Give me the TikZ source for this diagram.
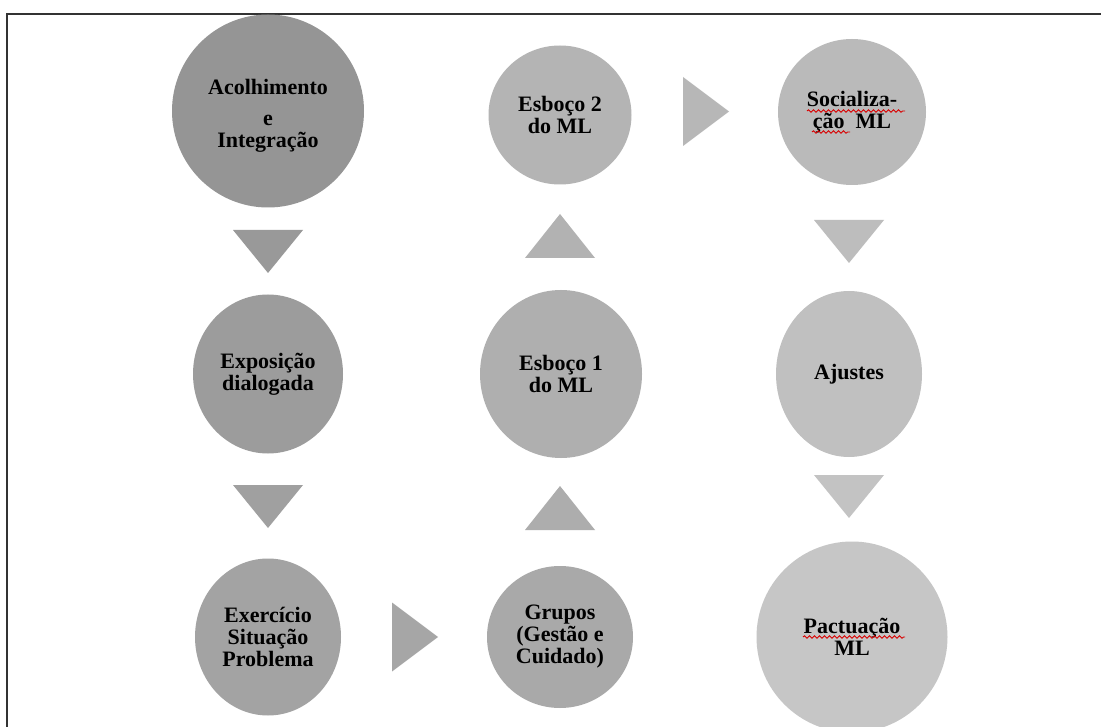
\documentclass[tikz,border=0pt]{standalone}
\usepackage{fontspec}
\setmainfont{Liberation Serif}
\usetikzlibrary{shapes.geometric,decorations.pathmorphing,calc}

\definecolor{cA}{HTML}{959595}
\definecolor{cB}{HTML}{9C9C9C}
\definecolor{cC}{HTML}{A3A3A3}
\definecolor{cD}{HTML}{A9A9A9}
\definecolor{cE}{HTML}{AFAFAF}
\definecolor{cF}{HTML}{B4B4B4}
\definecolor{cG}{HTML}{BABABA}
\definecolor{cH}{HTML}{C0C0C0}
\definecolor{cI}{HTML}{C6C6C6}
\definecolor{tA}{HTML}{999999}
\definecolor{tB}{HTML}{A0A0A0}
\definecolor{tC}{HTML}{A6A6A6}
\definecolor{tD}{HTML}{ADADAD}
\definecolor{tE}{HTML}{B2B2B2}
\definecolor{tF}{HTML}{B7B7B7}
\definecolor{tG}{HTML}{BDBDBD}
\definecolor{tH}{HTML}{C3C3C3}

\tikzset{
  stage/.style={ellipse, inner sep=0pt, draw=none, align=center,
    font=\fontsize{22}{22}\selectfont\bfseries, text=black},
  downtri/.pic={\fill (-35,-21.5) -- (35,-21.5) -- (0,21.5) -- cycle;},
  uptri/.pic={\fill (-35,22) -- (35,22) -- (0,-22) -- cycle;},
  righttri/.pic={\fill (-23,-34.5) -- (-23,34.5) -- (23,0) -- cycle;},
  spell/.style={draw=red!85!black, line width=0.9pt,
    decorate, decoration={snake, segment length=5pt, amplitude=1.2pt}},
  frameline/.style={draw=black!80, line width=1.3pt}
}

\begin{document}
\begin{tikzpicture}[x=1pt, y=-1pt]
  \useasboundingbox (0,0) rectangle (1101,727);
  \fill[white] (0,0) rectangle (1101,727);

  % page frame (top and left edges)
  \coordinate (fTL) at (7,14);
  \coordinate (fTR) at (1101,14);
  \coordinate (fBL) at (7,727);
  \draw[frameline] (fTR) -- (fTL) -- (fBL);

  % left column
  \node[stage, fill=cA, minimum width=192pt, minimum height=193pt] (acol) at (268,111)
    {\rule{0pt}{24pt}Acolhimento\\[9pt] e\\ Integração};
  \node[stage, fill=cB, minimum width=150pt, minimum height=159pt] (expo) at (268,374)
    {Exposição\\ dialogada};
  \node[stage, fill=cC, minimum width=146pt, minimum height=157pt] (exer) at (268,637)
    {Exercício\\ Situação\\ Problema};

  % middle column
  \node[stage, fill=cD, minimum width=146pt, minimum height=142pt] (grup) at (560,637)
    {Grupos\\ (Gestão e\\ Cuidado)};
  \node[stage, fill=cE, minimum width=162pt, minimum height=168pt] (esb1) at (561,374)
    {Esboço 1\\ do ML};
  \node[stage, fill=cF, minimum width=143pt, minimum height=139pt] (esb2) at (560,115)
    {Esboço 2\\ do ML};

  % right column
  \node[stage, fill=cG, minimum width=148pt, minimum height=146pt] (soci) at (852,112)
    {Socializa-\\ ção~~ML};
  \node[stage, fill=cH, minimum width=146pt, minimum height=166pt] (ajus) at (849,374)
    {Ajustes};
  \node[stage, fill=cI, minimum width=191pt, minimum height=191pt] (pact) at (852,637)
    {Pactuação\\ ML};

  % flow markers between the stages
  \pic[fill=tA] at (268,251.5) {downtri};
  \pic[fill=tB] at (268,506.5) {downtri};
  \pic[fill=tC] at (415,637) {righttri};
  \pic[fill=tD] at (560,508) {uptri};
  \pic[fill=tE] at (560,236) {uptri};
  \pic[fill=tF] at (706,111.5) {righttri};
  \pic[fill=tG] at (849,241.5) {downtri};
  \pic[fill=tH] at (849,496.5) {downtri};

  % spell-check squiggles under the flagged words
  \draw[spell] ($(soci.center)+(-45,-1)$) -- ($(soci.center)+(53,-1)$);
  \draw[spell] ($(soci.center)+(-40,20)$) -- ($(soci.center)+(-2,20)$);
  \draw[spell] ($(pact.center)+(-49,0)$) -- ($(pact.center)+(53,0)$);
\end{tikzpicture}
\end{document}
